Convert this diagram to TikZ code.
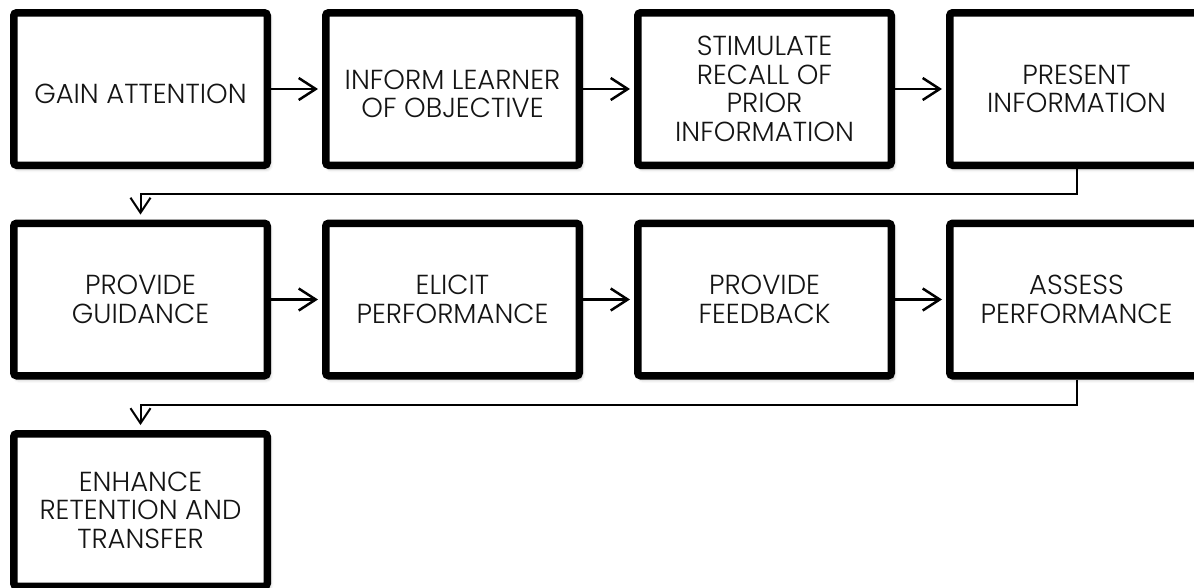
\documentclass[tikz,border=0pt]{standalone}
\usepackage{fontspec}
\setmainfont{Poppins}[UprightFont={* Light}]
\usetikzlibrary{arrows.meta,calc,shadows.blur}
\begin{document}
\begin{tikzpicture}[x=1pt,y=1pt,
  stepbox/.style={draw=black, line width=7.5pt, rounded corners=3pt, fill=white,
    minimum width=253.5pt, minimum height=152.5pt, inner sep=0pt,
    blur shadow={shadow xshift=2pt, shadow yshift=-3pt, shadow blur radius=4pt, shadow opacity=40}},
  txt/.style={align=center, text=black!92, font=\fontsize{27.5}{28.5}\selectfont, inner sep=0pt},
  flow/.style={line width=2.5pt, -{Straight Barb[length=17pt,width=22pt]}, shorten >=4pt},
  wrap/.style={line width=2pt, -{Straight Barb[length=15pt,width=20pt]}, shorten >=5pt, rounded corners=0pt}
]
\useasboundingbox (0,0) rectangle (1194,-587);
% row 1
\node[stepbox, label={[txt, yshift=-5pt]center:GAIN ATTENTION}] (b1) at (140.5,-89) {};
\node[stepbox, label={[txt, yshift=-5pt]center:INFORM LEARNER\\OF OBJECTIVE}] (b2) at (452.5,-89) {};
\node[stepbox, label={[txt]center:STIMULATE\\RECALL OF\\PRIOR\\INFORMATION}] (b3) at (764.5,-89) {};
\node[stepbox, label={[txt]center:PRESENT\\INFORMATION}] (b4) at (1076.5,-89) {};
% row 2
\node[stepbox, label={[txt]center:PROVIDE\\GUIDANCE}] (b5) at (140.5,-299.5) {};
\node[stepbox, label={[txt]center:ELICIT\\PERFORMANCE}] (b6) at (452.5,-299.5) {};
\node[stepbox, label={[txt]center:PROVIDE\\FEEDBACK}] (b7) at (764.5,-299.5) {};
\node[stepbox, label={[txt]center:ASSESS\\PERFORMANCE}] (b8) at (1076.5,-299.5) {};
% row 3
\node[stepbox, label={[txt]center:ENHANCE\\RETENTION AND\\TRANSFER}] (b9) at (140.5,-510) {};
% connectors
\draw[flow] (b1) -- (b2);
\draw[flow] (b2) -- (b3);
\draw[flow] (b3) -- (b4);
\draw[flow] (b5) -- (b6);
\draw[flow] (b6) -- (b7);
\draw[flow] (b7) -- (b8);
\draw[wrap] (b4.south) |- ($(b4.south)!0.5!(b5.north)$) -| (b5.north);
\draw[wrap] (b8.south) |- ($(b8.south)!0.5!(b9.north)$) -| (b9.north);
\end{tikzpicture}
\end{document}
